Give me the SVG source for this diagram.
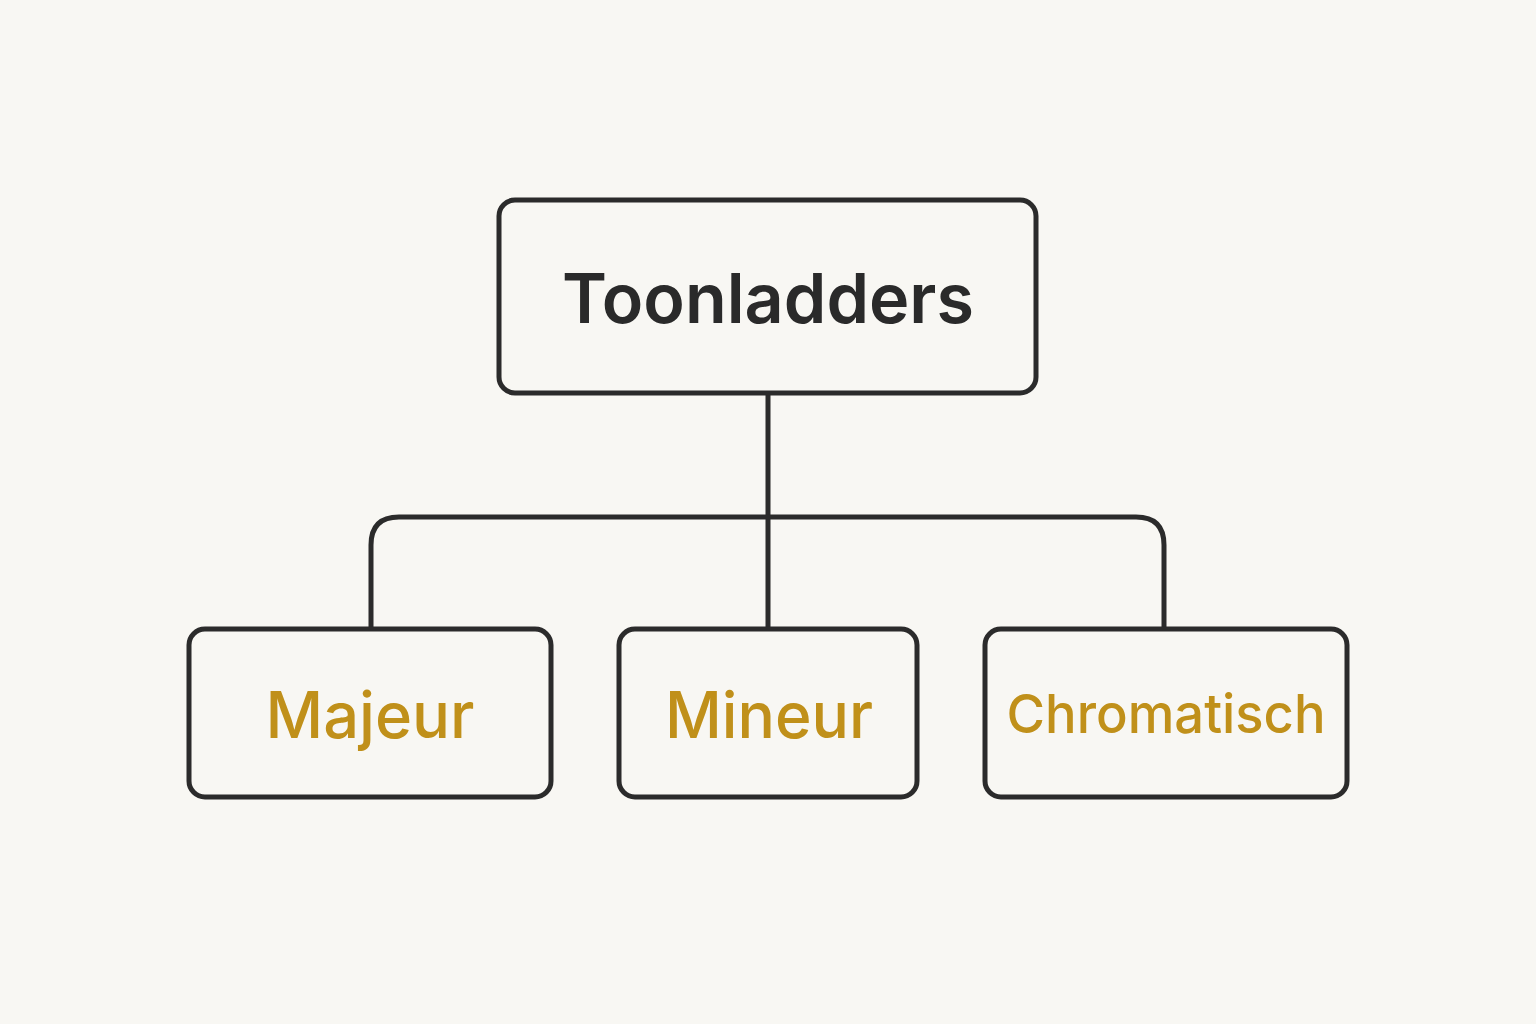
<svg xmlns="http://www.w3.org/2000/svg" width="1536" height="1024" viewBox="0 0 1536 1024">
<style>
.box{fill:#f8f7f3;stroke:#2b2b2b;stroke-width:5}
.con{fill:none;stroke:#2b2b2b;stroke-width:5;stroke-linejoin:round}
.title{font-family:Inter,"Liberation Sans",sans-serif;font-weight:600;fill:#2a2a2a;text-anchor:middle}
.leaf{font-family:Inter,"Liberation Sans",sans-serif;font-weight:500;fill:#c0901a;text-anchor:middle}
</style>
<rect width="1536" height="1024" fill="#f8f7f3"/>
<g id="connectors">
<path class="con" d="M768 393 V629"/>
<path class="con" d="M371 629 V545 Q371 517 399 517 H1136 Q1164 517 1164 545 V629"/>
</g>
<g id="node-toonladders">
<rect class="box" x="499" y="200" width="537" height="193" rx="16"/>
<text class="title" x="768" y="323" font-size="69" textLength="412" lengthAdjust="spacingAndGlyphs">Toonladders</text>
</g>
<g id="node-majeur">
<rect class="box" x="189" y="629" width="362" height="168" rx="16"/>
<text class="leaf" x="370" y="738" font-size="64" textLength="209" lengthAdjust="spacingAndGlyphs">Majeur</text>
</g>
<g id="node-mineur">
<rect class="box" x="619" y="629" width="298" height="168" rx="16"/>
<text class="leaf" x="769" y="738" font-size="64" textLength="208" lengthAdjust="spacingAndGlyphs">Mineur</text>
</g>
<g id="node-chromatisch">
<rect class="box" x="985" y="629" width="362" height="168" rx="16"/>
<text class="leaf" x="1166" y="733" font-size="54" textLength="319" lengthAdjust="spacingAndGlyphs">Chromatisch</text>
</g>
</svg>
